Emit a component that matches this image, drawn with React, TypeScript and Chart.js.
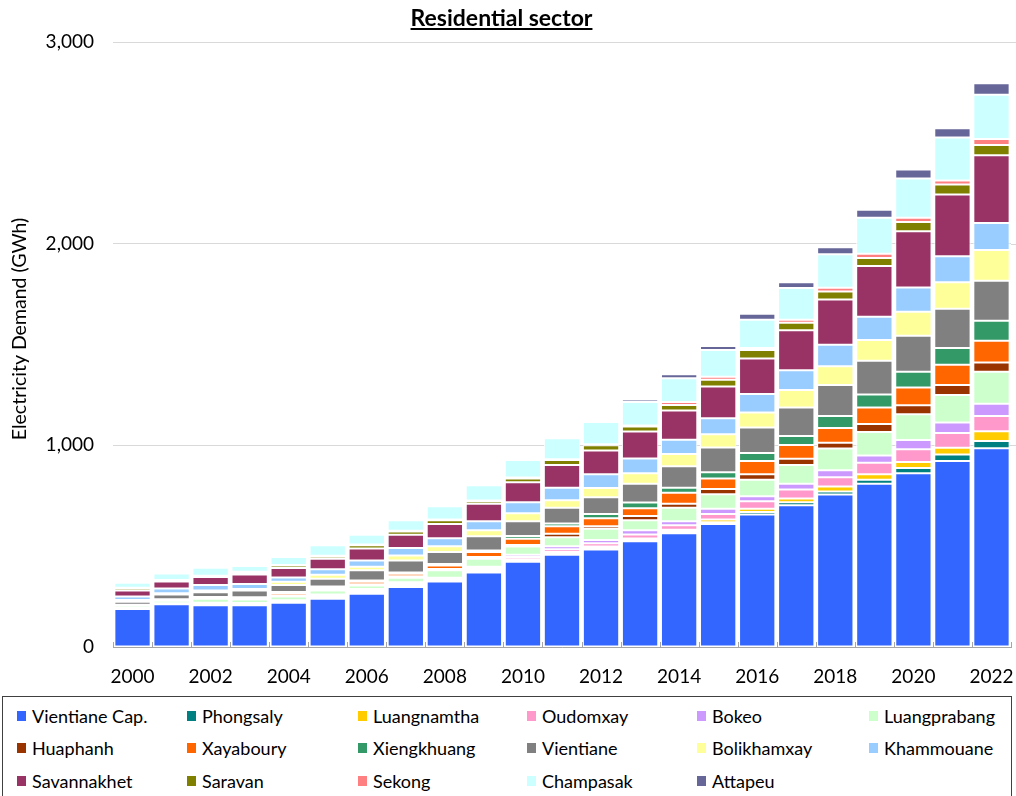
import React, { useEffect, useRef } from "react";
import { Chart, registerables } from "chart.js";

Chart.register(...registerables);

// Years on the category axis
const years = [
  "2000", "2001", "2002", "2003", "2004", "2005", "2006", "2007", "2008", "2009", "2010", "2011",
  "2012", "2013", "2014", "2015", "2016", "2017", "2018", "2019", "2020", "2021", "2022",
];

// Residential electricity demand by province (GWh), 2000–2022
const vientianeCap = [188, 212, 207, 207, 220, 239, 264, 297, 325, 370, 423, 458, 483, 524, 564, 610, 657, 703, 756, 809, 862, 922, 985];
const phongsaly = [1, 1, 2, 2, 2, 4, 4, 5, 4, 5, 6, 6, 7, 6, 8, 8, 13, 15, 15, 20, 25, 33, 36];
const luangnamtha = [1, 1, 3, 2, 3, 4, 4, 4, 4, 5, 6, 7, 8, 8, 10, 14, 15, 18, 25, 28, 30, 33, 49];
const oudomxay = [2, 2, 4, 4, 4, 8, 9, 9, 5, 10, 11, 14, 16, 20, 22, 28, 38, 45, 46, 57, 63, 73, 76];
const bokeo = [1, 1, 3, 3, 3, 5, 6, 6, 5, 8, 12, 14, 17, 21, 19, 25, 25, 28, 34, 35, 46, 52, 60];
const luangprabang = [12, 12, 20, 17, 18, 20, 18, 22, 37, 40, 40, 45, 55, 49, 67, 73, 81, 93, 108, 117, 128, 137, 159];
const huaphanh = [1, 2, 2, 3, 5, 5, 6, 8, 7, 8, 8, 17, 13, 22, 20, 25, 27, 32, 29, 40, 45, 49, 46];
const xayaboury = [2, 3, 4, 5, 12, 8, 12, 12, 17, 25, 31, 38, 39, 38, 55, 53, 66, 68, 73, 82, 88, 101, 108];
const xiengkhuang = [2, 3, 3, 4, 6, 7, 7, 7, 7, 8, 14, 13, 22, 28, 25, 31, 40, 44, 60, 64, 78, 83, 99];
const vientiane = [15, 23, 24, 33, 34, 38, 50, 59, 60, 70, 72, 78, 83, 93, 106, 122, 126, 142, 153, 167, 179, 194, 198];
const bolikhamxay = [8, 7, 8, 8, 16, 20, 18, 25, 28, 30, 40, 38, 45, 53, 61, 66, 75, 86, 93, 103, 119, 132, 153];
const khammouane = [17, 23, 27, 25, 22, 27, 31, 37, 40, 44, 55, 62, 68, 73, 71, 79, 91, 98, 107, 116, 120, 128, 134];
const savannakhet = [30, 35, 40, 47, 47, 53, 60, 66, 71, 87, 99, 112, 119, 133, 145, 158, 177, 199, 224, 251, 278, 307, 336];
const saravan = [11, 5, 4, 10, 12, 11, 15, 16, 18, 13, 19, 25, 25, 25, 27, 33, 42, 37, 40, 40, 47, 50, 50];
const sekong = [3, 2, 2, 3, 3, 4, 4, 4, 4, 4, 4, 4, 5, 5, 15, 15, 10, 15, 18, 21, 20, 19, 30];
const champasak = [24, 33, 40, 29, 39, 51, 49, 51, 66, 75, 87, 104, 111, 117, 118, 133, 140, 157, 166, 179, 195, 213, 219];
const attapeu = [1, 1, 1, 1, 1, 1, 1, 1, 1, 2, 2, 2, 2, 12, 20, 20, 29, 29, 35, 39, 45, 46, 58];

// Y-axis ticks
const yTicks = [0, 1000, 2000, 3000];

const series = [
  { label: "Vientiane Cap.", data: vientianeCap, color: "#3366FF" },
  { label: "Phongsaly", data: phongsaly, color: "#008080" },
  { label: "Luangnamtha", data: luangnamtha, color: "#FFCC00" },
  { label: "Oudomxay", data: oudomxay, color: "#FF99CC" },
  { label: "Bokeo", data: bokeo, color: "#CC99FF" },
  { label: "Luangprabang", data: luangprabang, color: "#CCFFCC" },
  { label: "Huaphanh", data: huaphanh, color: "#993300" },
  { label: "Xayaboury", data: xayaboury, color: "#FF6600" },
  { label: "Xiengkhuang", data: xiengkhuang, color: "#339966" },
  { label: "Vientiane", data: vientiane, color: "#808080" },
  { label: "Bolikhamxay", data: bolikhamxay, color: "#FFFF99" },
  { label: "Khammouane", data: khammouane, color: "#99CCFF" },
  { label: "Savannakhet", data: savannakhet, color: "#993366" },
  { label: "Saravan", data: saravan, color: "#808000" },
  { label: "Sekong", data: sekong, color: "#FF8080" },
  { label: "Champasak", data: champasak, color: "#CCFFFF" },
  { label: "Attapeu", data: attapeu, color: "#666699" },
];

const FONT = "Lato, 'Open Sans', sans-serif";
const CANVAS_W = 1016;

// Gridlines run on to the right edge of the canvas
const gridRunout = {
  id: "gridRunout",
  beforeDatasetsDraw(chart: any) {
    const { ctx, chartArea, scales } = chart;
    ctx.save();
    ctx.strokeStyle = "#D9D9D9";
    ctx.lineWidth = 1;
    for (const v of yTicks) {
      if (v === 0) continue;
      const y = Math.round(scales.y.getPixelForValue(v)) + 0.5;
      ctx.beginPath();
      ctx.moveTo(chartArea.right, y);
      ctx.lineTo(CANVAS_W, y);
      ctx.stroke();
    }
    ctx.restore();
  },
};

// Underlined chart title, y-axis caption and small category tick marks on the base line
const decorations = {
  id: "decorations",
  afterDraw(chart: any) {
    const { ctx, chartArea } = chart;
    ctx.save();
    // title
    ctx.font = `bold 23px ${FONT}`;
    ctx.fillStyle = "#000";
    ctx.textAlign = "center";
    ctx.textBaseline = "alphabetic";
    const title = "Residential sector";
    const cx = 501.5;
    ctx.fillText(title, cx, 26);
    const w = ctx.measureText(title).width;
    ctx.fillRect(cx - w / 2, 28, w, 2);

    // y-axis caption
    ctx.translate(20, 329);
    ctx.rotate(-Math.PI / 2);
    ctx.font = `19.5px ${FONT}`;
    ctx.textBaseline = "middle";
    ctx.fillText("Electricity Demand (GWh)", 0, 0);
    ctx.restore();

    // tick marks between categories
    ctx.save();
    ctx.strokeStyle = "#A6A6A6";
    ctx.lineWidth = 1;
    const n = years.length;
    const step = (chartArea.right - chartArea.left) / n;
    for (let i = 0; i <= n; i++) {
      const x = Math.round(chartArea.left + i * step) + 0.5;
      ctx.beginPath();
      ctx.moveTo(x, chartArea.bottom);
      ctx.lineTo(x, chartArea.bottom - 5);
      ctx.stroke();
    }
    ctx.restore();
  },
};

function ResidentialChart() {
  const canvasRef = useRef<HTMLCanvasElement | null>(null);

  useEffect(() => {
    const canvas = canvasRef.current;
    if (!canvas) return;
    const chart = new Chart(canvas, {
      type: "bar",
      data: {
        labels: years,
        datasets: series.map((s) => ({
          label: s.label,
          data: s.data,
          backgroundColor: s.color,
          borderColor: "#FFFFFF",
          borderWidth: 1,
          borderSkipped: false,
          barPercentage: 0.93,
          categoryPercentage: 1,
        })),
      },
      options: {
        animation: false,
        responsive: false,
        maintainAspectRatio: false,
        layout: { padding: { left: 0, right: 5, top: 42, bottom: 0 } },
        plugins: {
          legend: { display: false },
          title: { display: false },
          tooltip: { enabled: false },
        },
        scales: {
          x: {
            stacked: true,
            grid: {
              display: true,
              drawOnChartArea: false,
              drawTicks: true,
              tickLength: 17,
              color: "rgba(0,0,0,0)",
            },
            border: { display: true, color: "#A6A6A6", width: 1 },
            ticks: {
              autoSkip: false,
              maxRotation: 0,
              padding: 1,
              color: "#000",
              font: { family: FONT, size: 19 },
              callback: (_v: any, i: number) => (i % 2 === 0 ? years[i] : ""),
            },
            afterFit: (s: any) => {
              s.height = 48;
            },
          },
          y: {
            stacked: true,
            min: yTicks[0],
            max: yTicks[yTicks.length - 1],
            afterBuildTicks: (s: any) => {
              s.ticks = yTicks.map((v) => ({ value: v }));
            },
            grid: { color: "#D9D9D9", drawTicks: false, lineWidth: 1 },
            border: { display: false },
            ticks: {
              padding: 19,
              color: "#000",
              font: { family: FONT, size: 19 },
              callback: (v: any) => Number(v).toLocaleString("en-US"),
            },
            afterFit: (s: any) => {
              s.width = 113;
            },
          },
        },
      },
      plugins: [gridRunout, decorations],
    });
    return () => chart.destroy();
  }, []);

  return <canvas ref={canvasRef} width={CANVAS_W} height={695} style={{ display: "block" }} />;
}

// Legend columns and rows
const legendCols = [17, 187, 358, 527, 697, 869];
const legendRows = [716, 748, 781];

function Legend() {
  return (
    <div
      style={{
        position: "absolute",
        left: 2,
        top: 696,
        width: 1010,
        height: 120,
        border: "1px solid #404040",
        boxSizing: "border-box",
      }}
    >
      {series.map((s, i) => {
        const col = i % 6;
        const row = Math.floor(i / 6);
        return (
          <div
            key={s.label}
            style={{
              position: "absolute",
              left: legendCols[col] - 3,
              top: legendRows[row] - 697 - 11,
              height: 22,
              display: "flex",
              alignItems: "center",
              whiteSpace: "nowrap",
              fontFamily: FONT,
              fontSize: 18,
              color: "#000",
            }}
          >
            <span
              style={{
                display: "inline-block",
                width: 9,
                height: 10,
                background: s.color,
                marginRight: 6,
              }}
            />
            <span>{s.label}</span>
          </div>
        );
      })}
    </div>
  );
}

export default function App() {
  return (
    <div style={{ position: "absolute", left: 0, top: 0, width: 1016, height: 796, overflow: "hidden", background: "#fff" }}>
      <ResidentialChart />
      <Legend />
    </div>
  );
}
